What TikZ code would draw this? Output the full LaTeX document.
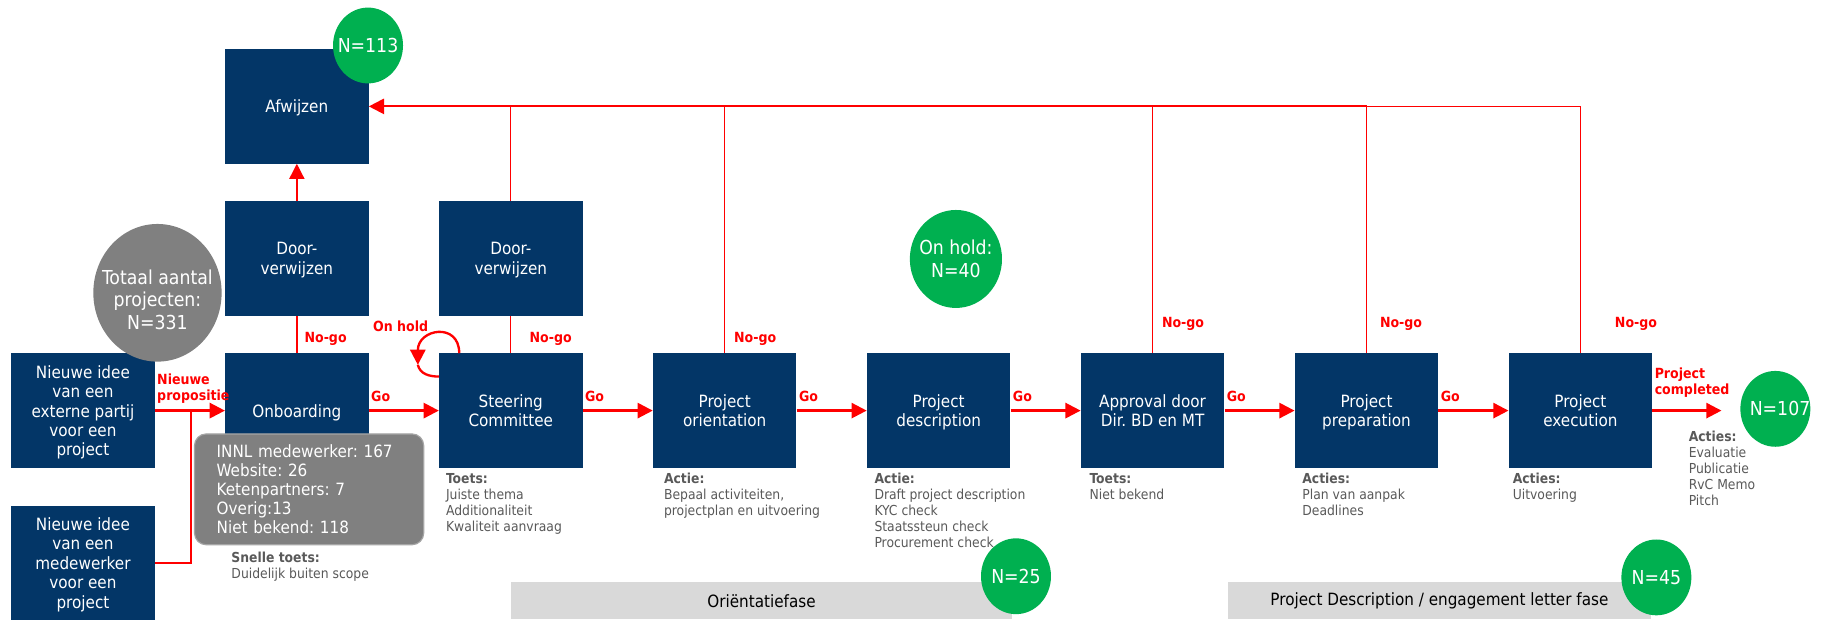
\documentclass[tikz,border=0pt]{standalone}
\usepackage{fontspec}
\setmainfont{DejaVu Sans Condensed}
\usepackage{tikz}
\usetikzlibrary{arrows.meta,shapes.geometric}
\frenchspacing

\definecolor{navy}{RGB}{3,54,103}
\definecolor{nred}{RGB}{255,0,0}
\definecolor{ngreen}{RGB}{0,176,80}
\definecolor{ngrey}{RGB}{128,128,128}
\definecolor{nedge}{RGB}{165,165,165}
\definecolor{nbar}{RGB}{217,217,217}
\definecolor{ntext}{RGB}{89,89,89}

\begin{document}
\begin{tikzpicture}[x=1pt, y=1pt, node distance={183.4pt}, >={Triangle[length=13pt,width=13pt]},
    box/.style = {fill=navy, text=white, minimum width=123pt, minimum height=98pt, inner sep=0pt, text depth=0pt, align=center, font=\fontsize{14.5}{16.7}\selectfont},
    count/.style = {ellipse, fill=ngreen, minimum width=60pt, minimum height=65pt, inner sep=0pt},
    cnum/.style = {text=white, inner sep=0pt, align=center, font=\fontsize{16.5}{19.5}\selectfont},
    flow/.style = {draw=nred, line width=2pt},
    nogo/.style = {draw=nred, line width=1.2pt},
    lbl/.style = {text=nred, inner sep=1pt, align=left, font=\fontsize{12}{14.3}\selectfont\bfseries},
    note/.style = {text=ntext, anchor=north west, inner sep=0pt, align=left, font=\fontsize{11.8}{13.7}\selectfont},
    fase/.style = {fill=nbar, minimum height=32pt, inner sep=0pt, font=\fontsize{14.5}{17}\selectfont}]
                \useasboundingbox (0,0) rectangle (1568,-531);
                \node[fase, minimum width=429.6pt] (ofase) at (652.8,-515) {Oriëntatiefase};
                \node[fase, minimum width=363pt] (pfase) at (1234,-515) {Project Description / engagement letter fase};
                \node[box] (onb) at (254.5,-352) {Onboarding};
                \node[box] (steer) [right of=onb] {Steering\\Committee};
                \node[box] (orient) [right of=steer] {Project\\orientation};
                \node[box] (descr) [right of=orient] {Project\\description};
                \node[box] (appr) [right of=descr] {Approval door\\Dir. BD en MT};
                \node[box] (prep) [right of=appr] {Project\\preparation};
                \node[box] (exec) [right of=prep] {Project\\execution};
                \node[box] (idea1) [left of=onb] {Nieuwe idee\\van een\\externe partij\\voor een\\project};
                \node[box, node distance=130.4pt] (idea2) [below of=idea1] {Nieuwe idee\\van een\\medewerker\\voor een\\project};
                \node[box, node distance=130.4pt] (door1) [above of=onb] {Door-\\verwijzen};
                \node[box, node distance=130.4pt] (afw) [above of=door1] {Afwijzen};
                \node[box, node distance=130.4pt] (door2) [above of=steer] {Door-\\verwijzen};
                \coordinate (join) at ([xshift=31pt]idea1.east);
                \coordinate (top) at (prep.north |- afw.east);
                \draw[flow, ->] (idea1) -- node[lbl, pos=0, anchor=south west, yshift=4pt] {Nieuwe\\propositie} (onb);
                \draw[flow] (idea2.east) -| (join);
                \draw[flow, ->] (onb) -- node[lbl, pos=0, anchor=south west, yshift=6pt] {Go} (steer);
                \draw[flow, ->] (steer) -- node[lbl, pos=0, anchor=south west, yshift=6pt] {Go} (orient);
                \draw[flow, ->] (orient) -- node[lbl, pos=0, anchor=south west, yshift=6pt] {Go} (descr);
                \draw[flow, ->] (descr) -- node[lbl, pos=0, anchor=south west, yshift=6pt] {Go} (appr);
                \draw[flow, ->] (appr) -- node[lbl, pos=0, anchor=south west, yshift=6pt] {Go} (prep);
                \draw[flow, ->] (prep) -- node[lbl, pos=0, anchor=south west, yshift=6pt] {Go} (exec);
                \draw[nogo] (onb) -- node[lbl, right, pos=0.38, xshift=5pt] {No-go} (door1);
                \draw[nogo, ->] (door1) -- (afw);
                \draw[nogo] (steer) -- node[lbl, right, pos=0.38, xshift=14.5pt] {No-go} (door2);
                \draw[nogo] (door2) -- (door2.north |- afw.east);
                \draw[nogo] (orient) -- node[lbl, right, pos=0.058, xshift=6.5pt] {No-go} (orient.north |- afw.east);
                \draw[nogo] (appr) -- node[lbl, right, pos=0.119, xshift=6.5pt] {No-go} (appr.north |- afw.east);
                \draw[nogo] (prep) -- node[lbl, right, pos=0.119, xshift=10pt] {No-go} (top);
                \draw[nogo] (exec) -- node[lbl, right, pos=0.119, xshift=28pt] {No-go} (exec.north |- afw.east) -- (top);
                \draw[nogo, line width=1.8pt, ->] (top) -- (afw.east);
                \coordinate (hold tip) at ([xshift=-18pt,yshift=-10pt]steer.north west);
                \draw[flow, ->] ([xshift=17.5pt]steer.north west) .. controls +(0,27) and +(0,31) .. (hold tip);
                \draw[flow] (hold tip) .. controls +(2,-8) and +(-8,0) .. ([yshift=-20pt]steer.north west);
                \node[lbl, anchor=east] (hold lbl) at ([xshift=-8pt,yshift=23pt]steer.north west) {On hold};
                \node[count, label={[cnum, xshift=4pt]center:N=107}] (n107) at (1522,-350.5) {};
                \draw[flow, ->, shorten >=16pt] (exec.east) -- node[lbl, pos=0, anchor=south west, yshift=9pt] {Project\\completed} (exec.east -| n107.west);
                \node[draw=nedge, line width=1pt, rounded corners=10pt, fill=ngrey, text=white, minimum width=196.5pt, minimum height=95pt, inner xsep=19pt, inner ysep=0pt, text width=158.5pt, align=left, font=\fontsize{14.5}{16.4}\selectfont] (src) at (265,-419.5) {INNL medewerker: 167\\Website: 26\\Ketenpartners: 7\\Overig:13\\Niet bekend: 118};
                \node[note] (srcnote) at ([xshift=32pt,yshift=-5.5pt]src.south west) {\textbf{Snelle toets:}\\Duidelijk buiten scope};
                \node[note] (steernote) at ([xshift=6pt,yshift=-4.5pt]steer.south west) {\textbf{Toets:}\\Juiste thema\\Additionaliteit\\Kwaliteit aanvraag};
                \node[note] (orientnote) at ([xshift=9.5pt,yshift=-4.5pt]orient.south west) {\textbf{Actie:}\\Bepaal activiteiten,\\projectplan en uitvoering};
                \node[note] (descrnote) at ([xshift=6.5pt,yshift=-4.5pt]descr.south west) {\textbf{Actie:}\\Draft project description\\KYC check\\Staatssteun check\\Procurement check};
                \node[note] (apprnote) at ([xshift=7.5pt,yshift=-4.5pt]appr.south west) {\textbf{Toets:}\\Niet bekend};
                \node[note] (prepnote) at ([xshift=6.5pt,yshift=-4.5pt]prep.south west) {\textbf{Acties:}\\Plan van aanpak\\Deadlines};
                \node[note] (execnote) at ([xshift=3.5pt,yshift=-4.5pt]exec.south west) {\textbf{Acties:}\\Uitvoering};
                \node[note] (donenote) at ([xshift=31pt,yshift=-66.5pt]exec.north east) {\textbf{Acties:}\\Evaluatie\\Publicatie\\RvC Memo\\Pitch};
                \node[count, fill=ngrey, minimum width=110pt, minimum height=118pt, label={[cnum, yshift=-6pt]center:Totaal aantal\\projecten:\\N=331}] (total) at (135,-251) {};
                \node[count, label={[cnum]center:N=113}] (n113) at (315.5,-39) {};
                \node[count, minimum width=79pt, minimum height=84pt, label={[cnum]center:On hold:\\N=40}] (hold) at (819.5,-222) {};
                \node[count, label={[cnum]center:N=25}] (n25) at (871,-494) {};
                \node[count, label={[cnum]center:N=45}] (n45) at (1420,-495) {};
            \end{tikzpicture}
\end{document}
